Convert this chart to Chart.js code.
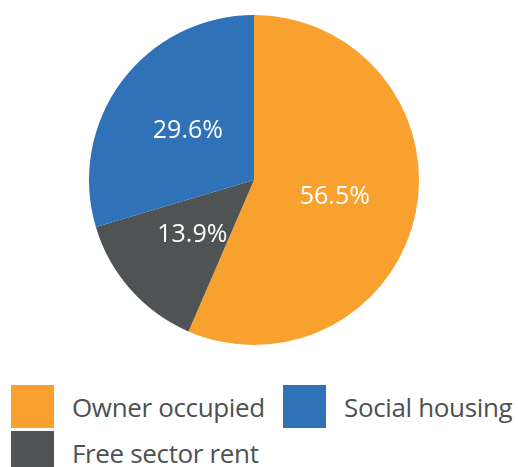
<!DOCTYPE html>
<html>
<head>
<meta charset="utf-8">
<script src="https://cdn.jsdelivr.net/npm/chart.js@4/dist/chart.umd.min.js"></script>
<style>
  html, body { margin: 0; padding: 0; background: #fff; }
  #wrap { position: relative; width: 518px; height: 467px; overflow: hidden; }
  #chart-box { position: absolute; left: 0; top: 0; width: 518px; height: 370px; }
  #legend {
    position: absolute; left: 11px; top: 385px;
    display: grid; grid-template-rows: 43px 43px; grid-template-columns: 272px 235px;
    grid-auto-flow: column; row-gap: 3px;
    font-family: "Open Sans", sans-serif; font-size: 26px; letter-spacing: -0.35px; color: #4d5152;
  }
  .item { display: flex; align-items: center; white-space: nowrap; }
  .swatch { width: 43px; height: 43px; margin-right: 18px; flex: none; }
</style>
</head>
<body>
<div id="wrap">
  <div id="chart-box"><canvas id="housing-pie"></canvas></div>
  <div id="legend"></div>
</div>
<script>
var labels = ['Owner occupied', 'Free sector rent', 'Social housing'];
var shares = [56.5, 13.9, 29.6];
var colors = ['#f8a12f', '#4f5354', '#2f72b8'];

// percentage text in the middle of every slice
var sliceLabels = {
  id: 'sliceLabels',
  afterDatasetsDraw: function(chart) {
    var ctx = chart.ctx;
    var meta = chart.getDatasetMeta(0);
    ctx.save();
    ctx.fillStyle = '#ffffff';
    ctx.font = '25px "Open Sans"';
    ctx.textAlign = 'center';
    ctx.textBaseline = 'middle';
    meta.data.forEach(function(arc, i) {
      var p = arc.tooltipPosition();
      ctx.fillText(shares[i].toFixed(1) + '%', p.x, p.y);
    });
    ctx.restore();
  }
};

var ctx = document.getElementById('housing-pie').getContext('2d');
var curChart = new Chart(ctx, {
  type: 'pie',
  plugins: [sliceLabels],
  options: {
    responsive: true,
    maintainAspectRatio: false,
    animation: false,
    layout: { padding: { left: 0, right: 10, top: 15, bottom: 25 } },
    plugins: {
      legend: { display: false },
      tooltip: { enabled: false }
    }
  },
  data: {
    labels: labels,
    datasets: [ { backgroundColor: colors, data: shares, borderWidth: 0 } ]
  }
});

var legend = document.getElementById('legend');
labels.forEach(function(name, i) {
  var item = document.createElement('div');
  item.className = 'item';
  var sw = document.createElement('span');
  sw.className = 'swatch';
  sw.style.background = colors[i];
  item.appendChild(sw);
  item.appendChild(document.createTextNode(name));
  legend.appendChild(item);
});
</script>
</body>
</html>
